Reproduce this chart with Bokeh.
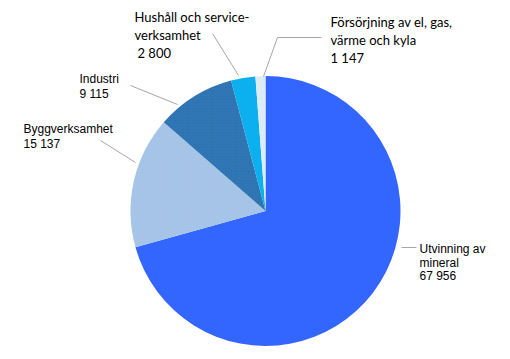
import math
from bokeh.plotting import figure
from bokeh.models import ColumnDataSource
from bokeh.core.properties import value
from bokeh.embed import file_html
from bokeh.resources import INLINE

# Data (clockwise from 12 o'clock)
categories = ["Utvinning av mineral", "Byggverksamhet", "Industri",
              "Hushåll och service-verksamhet", "Försörjning av el, gas, värme och kyla"]
values = [67956, 15137, 9115, 2800, 1147]
colors = ["#3366FF", "#A4C6E8", "#2E74B5", "#0DB0EE", "#DDEBF7"]
label_lines = [
    ["Utvinning av", "mineral"],
    ["Byggverksamhet"],
    ["Industri"],
    ["Hushåll och service-", "verksamhet"],
    ["Försörjning av el, gas,", "värme och kyla"],
]

W, H = 510, 359
p = figure(width=W, height=H, x_range=(0, W), y_range=(0, H),
           output_backend="svg", toolbar_location=None, min_border=0)
p.axis.visible = False
p.grid.visible = False
p.outline_line_color = None
p.background_fill_color = "white"
p.border_fill_color = "white"

def Y(py):
    return H - py

cx, cy, r = 265, Y(210.5), 135
total = sum(values)
starts, ends = [], []
cum = 0.0
for v in values:
    starts.append(math.pi / 2 - 2 * math.pi * cum / total)
    cum += v
    ends.append(math.pi / 2 - 2 * math.pi * cum / total)

src = ColumnDataSource(dict(x=[cx] * len(values), y=[cy] * len(values),
                            start=starts, end=ends, color=colors))
p.wedge(x="x", y="y", radius=r, start_angle="start", end_angle="end",
        direction="clock", fill_color="color", line_color=None, source=src)

# subtle dotted texture on two slices
tex = ColumnDataSource(dict(x=[cx, cx], y=[cy, cy], start=starts[1:3], end=ends[1:3],
                            hc=["#B9A8D8", "#4F8F8A"], ha=[0.35, 0.25]))
p.wedge(x="x", y="y", radius=r, start_angle="start", end_angle="end",
        direction="clock", fill_alpha=0, line_color=None, hatch_pattern="dot",
        hatch_scale=3, hatch_color="hc", hatch_alpha="ha", source=tex)

def fmt(v):
    return f"{v:,}".replace(",", " ")

# Leader lines (gray)
lc = "#A6A6A6"
p.line([401, 416], [Y(247), Y(247)], line_color=lc, line_width=1)
p.line([100, 135], [Y(140), Y(162)], line_color=lc, line_width=1)
p.line([130, 177], [Y(85), Y(104)], line_color=lc, line_width=1)
p.line([212, 238], [Y(33), Y(75)], line_color=lc, line_width=1)
p.line([321, 277, 263], [Y(37), Y(37), Y(76)], line_color=lc, line_width=1)

def put(lines, xs, tops, font, size):
    for t, x, yt in zip(lines, xs, tops):
        p.text(x=[x], y=[Y(yt)], text=[t], text_font=value(font),
               text_font_size=size, text_color="#000000",
               text_baseline="top", text_align="left")

arial = "Liberation Sans"
cal = "Lato"
put(label_lines[0] + [fmt(values[0])], [419] * 3, [241, 255, 268], arial, "12px")
put(label_lines[1] + [fmt(values[1])], [23] * 2, [121, 136], arial, "12px")
put(label_lines[2] + [fmt(values[2])], [79] * 2, [71, 86], arial, "12px")
put(label_lines[3] + [fmt(values[3])], [134, 134, 137], [8, 26, 44], cal, "13px")
put(label_lines[4] + [fmt(values[4])], [330] * 3, [13, 31, 49], cal, "13px")

open("out.html", "w").write(file_html(p, INLINE))
